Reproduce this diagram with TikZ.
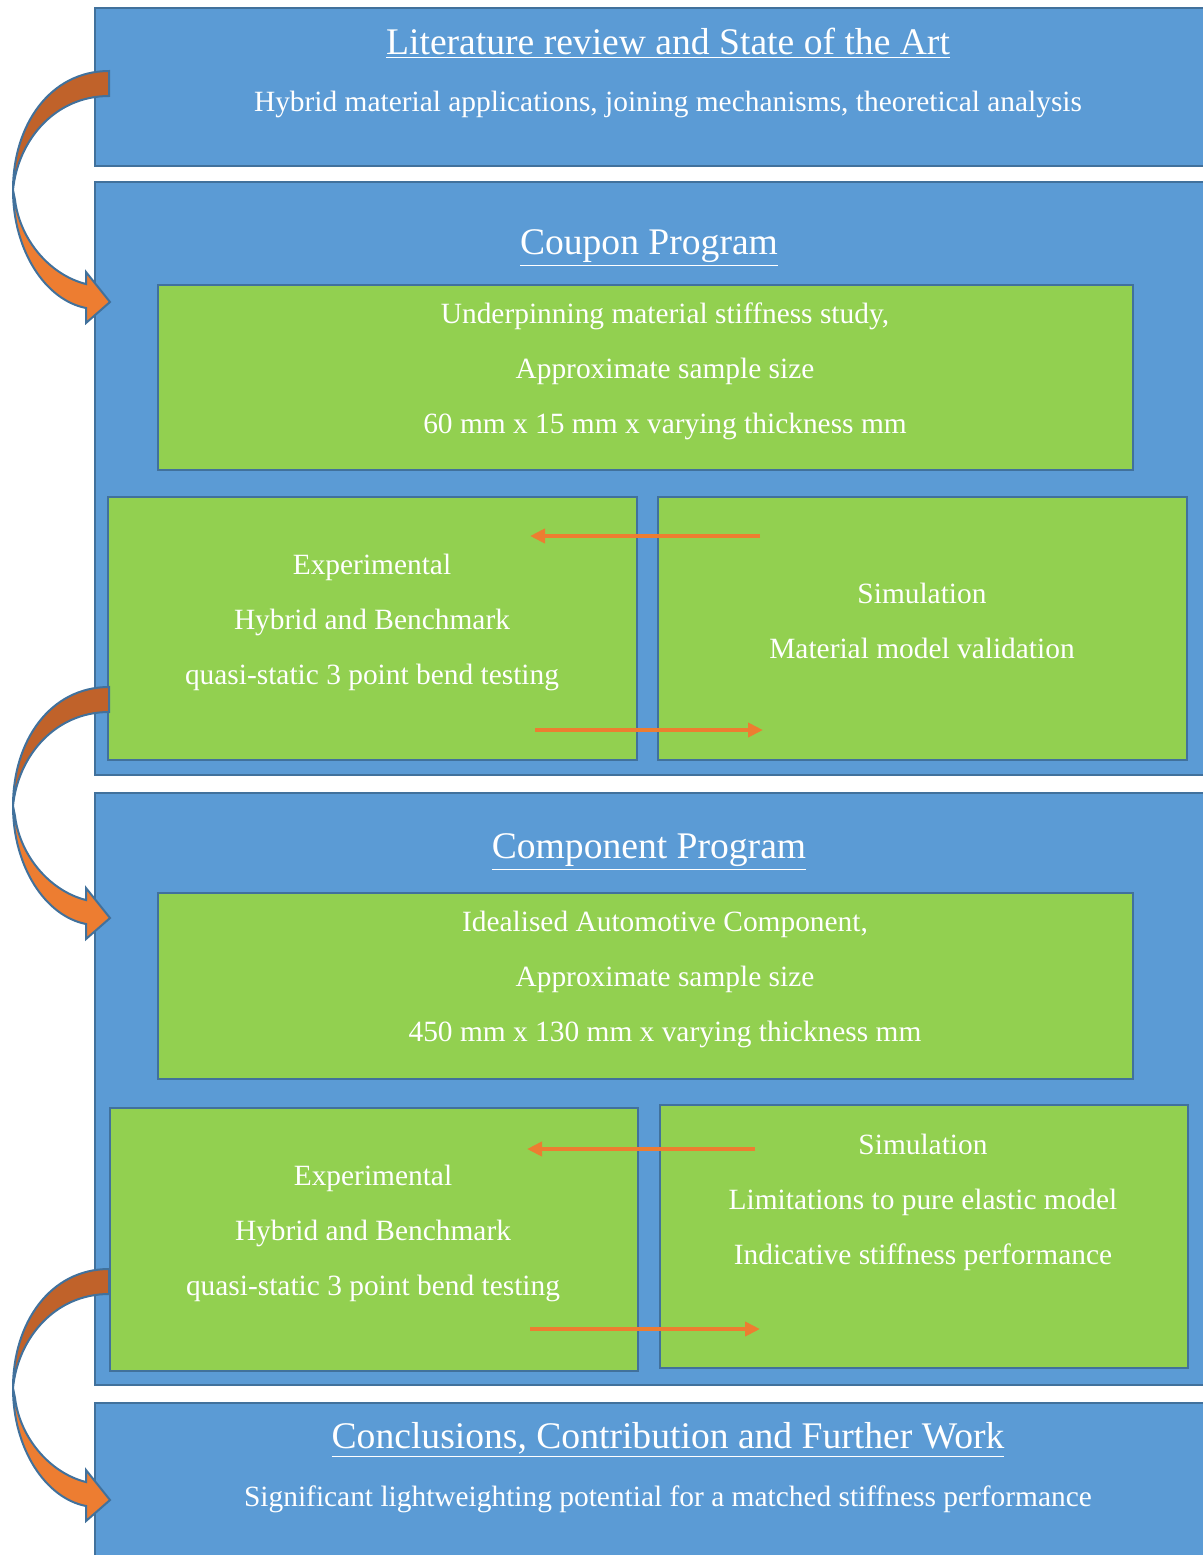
\documentclass[tikz,border=0pt]{standalone}
\usepackage{fontspec}
\setmainfont{Liberation Serif}
\usetikzlibrary{fit,arrows.meta}
\definecolor{boxblue}{HTML}{5B9BD5}
\definecolor{lineblue}{HTML}{41719C}
\definecolor{boxgreen}{HTML}{92D050}
\definecolor{arrorange}{HTML}{ED7D31}
\definecolor{darkorange}{HTML}{C0622A}
\begin{document}
\begin{tikzpicture}[x=0.5pt,y=-0.5pt,
    bluebox/.style={draw=lineblue,line width=1pt,fill=boxblue,inner sep=0pt},
    greenbox/.style={draw=lineblue,line width=1pt,fill=boxgreen,inner sep=0pt},
    txt/.style={text=white,align=center,font=\fontsize{14.7}{27.5}\selectfont},
    head/.style={text=white,font=\fontsize{18.8}{22}\selectfont},
    flow/.style={draw=arrorange,line width=2pt,-{Triangle[length=7.5pt,width=7pt]}}]
  \useasboundingbox (0,0) rectangle (1203,1555);
  % blue stages
  \node[bluebox,fit={(95,8) (1215,166)}] (lit) {};
  \node[bluebox,fit={(95,182) (1215,775)}] (coupon) {};
  \node[bluebox,fit={(95,793) (1215,1385)}] (comp) {};
  \node[bluebox,fit={(95,1403) (1215,1570)}] (concl) {};
  % green blocks
  \node[greenbox,fit={(158,285) (1133,470)}] (cstudy) {};
  \node[greenbox,fit={(108,497) (637,760)}] (cexp) {};
  \node[greenbox,fit={(658,497) (1187,760)}] (csim) {};
  \node[greenbox,fit={(158,893) (1133,1079)}] (pstudy) {};
  \node[greenbox,fit={(110,1108) (638,1371)}] (pexp) {};
  \node[greenbox,fit={(660,1105) (1188,1368)}] (psim) {};
  % texts
  \node[head] (littitle) at (668,43) {\underline{Literature review and State of the Art}};
  \node[txt] (littext) at (668,104) {Hybrid material applications, joining mechanisms, theoretical analysis};
  \node[head] (coutitle) at (649,248) {\underline{Coupon Program}};
  \node[txt] (coutext) at (665,371) {Underpinning material stiffness study,\\Approximate sample size\\60 mm x 15 mm x varying thickness mm};
  \node[txt] (couexp) at (372,622) {Experimental\\Hybrid and Benchmark\\quasi-static 3 point bend testing};
  \node[txt] (cousim) at (922,621) {Simulation\\Material model validation};
  \node[head] (comtitle) at (649,852) {\underline{Component Program}};
  \node[txt] (comtext) at (665,979) {Idealised Automotive Component,\\Approximate sample size\\450 mm x 130 mm x varying thickness mm};
  \node[txt] (comexp) at (373,1233) {Experimental\\Hybrid and Benchmark\\quasi-static 3 point bend testing};
  \node[txt] (comsim) at (923,1202) {Simulation\\Limitations to pure elastic model\\Indicative stiffness performance};
  \node[head] (contitle) at (668,1440) {\underline{Conclusions, Contribution and Further Work}};
  \node[txt] (context) at (668,1499) {Significant lightweighting potential for a matched stiffness performance};
  % exchange arrows
  \coordinate (ca) at (760,536); \coordinate (cb) at (530,536);
  \coordinate (cc) at (535,730); \coordinate (cd) at (763,730);
  \coordinate (pa) at (755,1149); \coordinate (pb) at (527,1149);
  \coordinate (pc) at (530,1329); \coordinate (pd) at (760,1329);
  \draw[flow] (ca) -- (cb); \draw[flow] (cc) -- (cd);
  \draw[flow] (pa) -- (pb); \draw[flow] (pc) -- (pd);
  % curved arrows between stages
  \foreach \o in {0,616,1198}{
    \begin{scope}[shift={(0,\o)}]
      \filldraw[fill=darkorange,draw=lineblue,line width=1pt] (109,71) .. controls (50,71) and (13,125) .. (13,190)
        .. controls (18,140) and (55,96) .. (109,96) -- cycle;
      \filldraw[fill=arrorange,draw=lineblue,line width=1pt] (13,190) .. controls (13,250) and (45,300) .. (86,308)
        -- (86,323) -- (110,302) -- (86,272) -- (86,284) .. controls (50,275) and (20,240) .. (15,200) -- cycle;
    \end{scope}}
\end{tikzpicture}
\end{document}
